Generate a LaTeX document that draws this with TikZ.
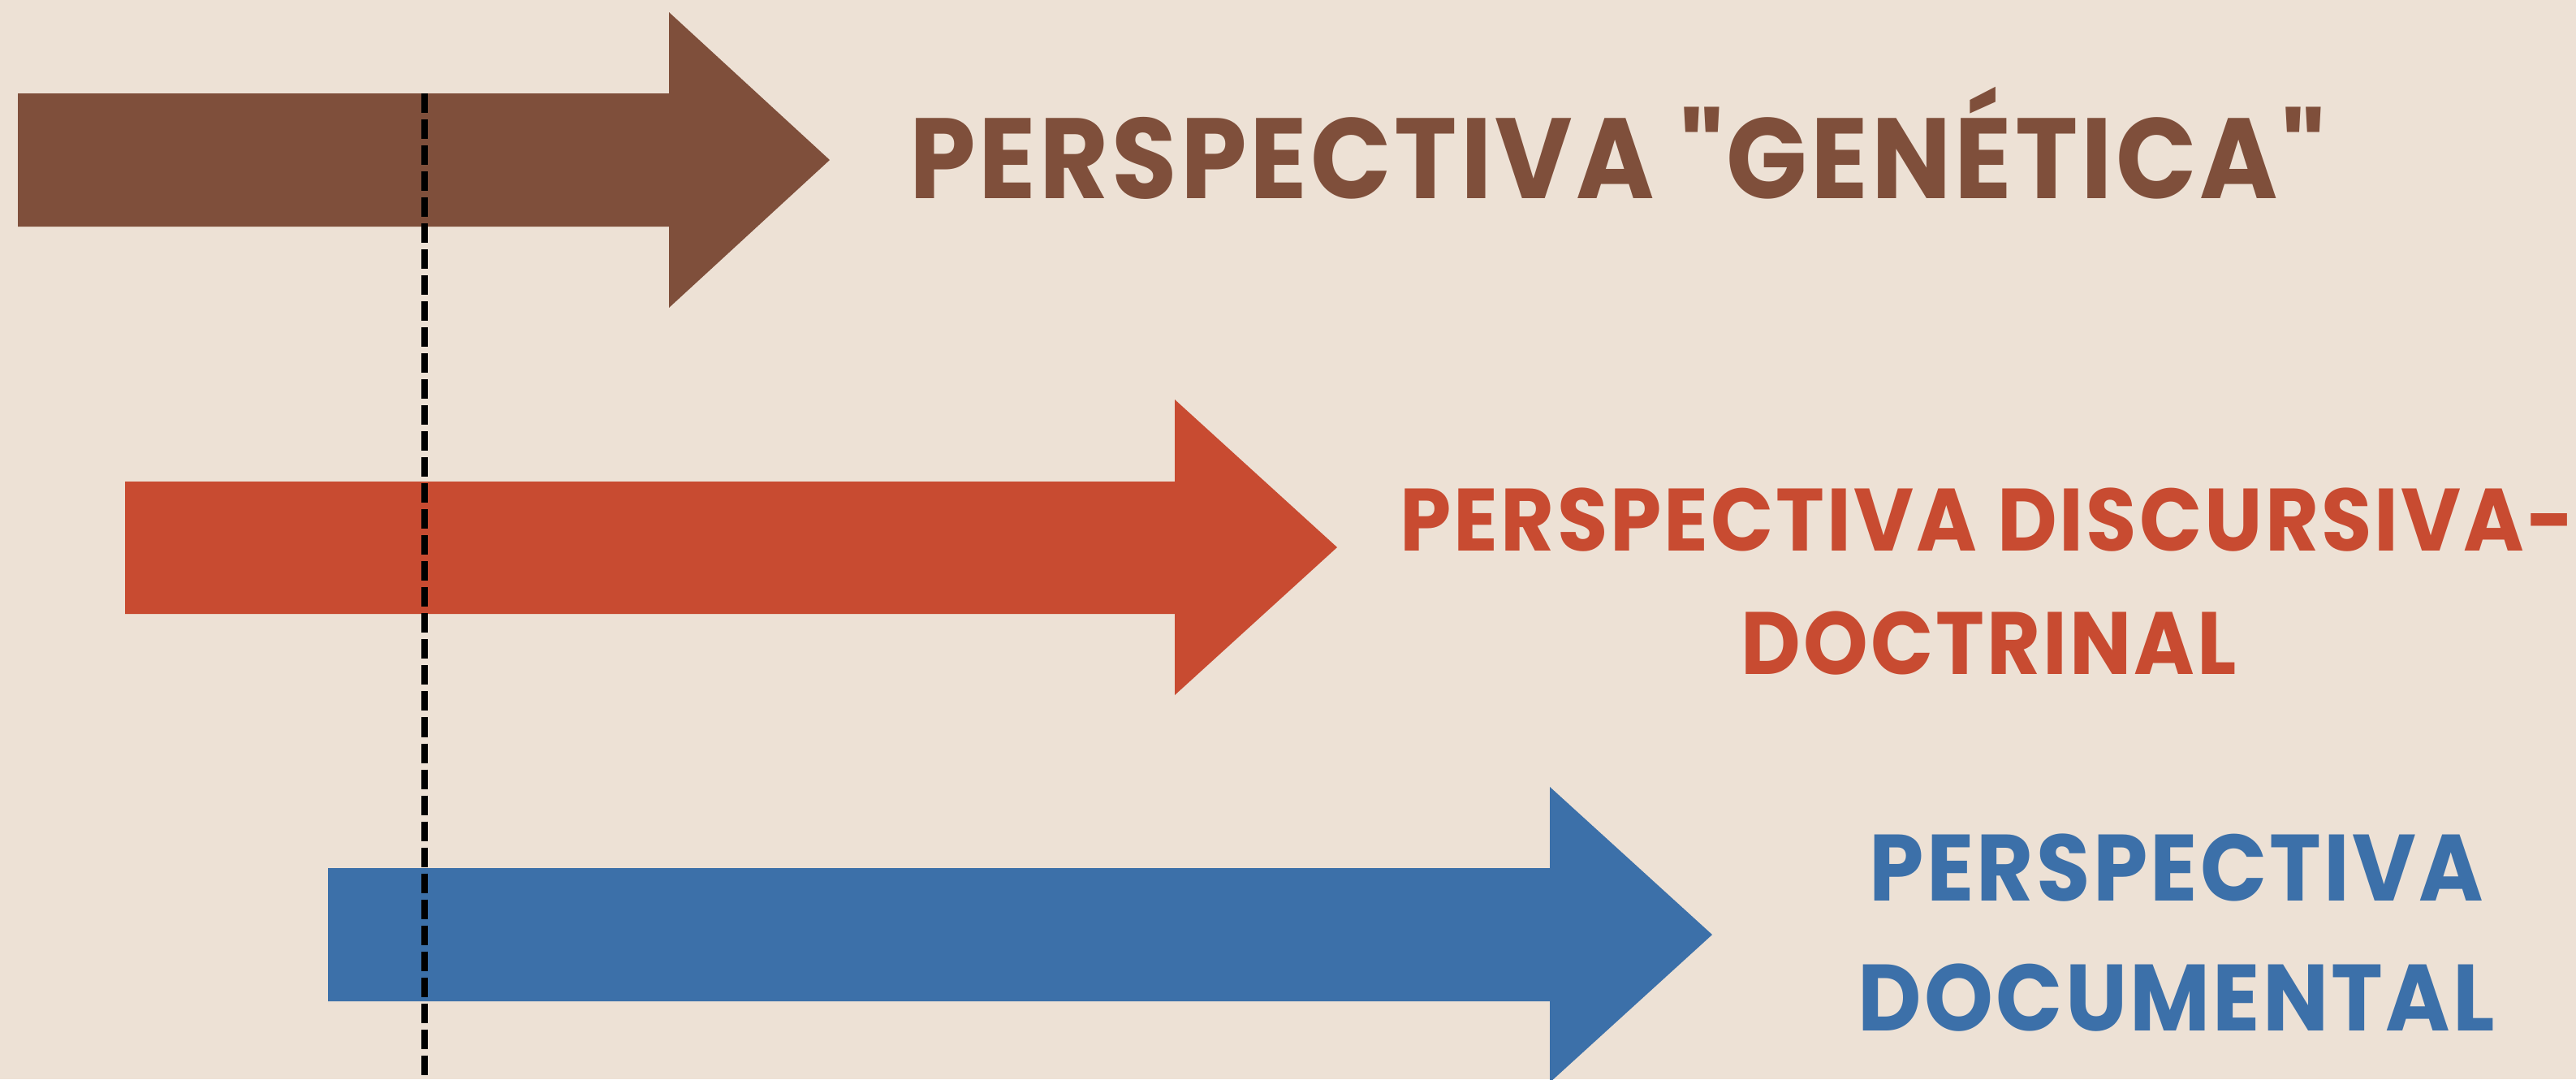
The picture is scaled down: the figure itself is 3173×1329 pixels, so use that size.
\documentclass[tikz,border=0pt]{standalone}
\usepackage{fontspec}
\newfontfamily\pfont{Poppins}[FakeStretch=0.93,LetterSpace=2.8]
\definecolor{bg}{HTML}{EDE1D5}
\definecolor{cbrown}{HTML}{7F4F3B}
\definecolor{cred}{HTML}{C84B31}
\definecolor{cblue}{HTML}{3C70A9}
\begin{document}
\begin{tikzpicture}[x=0.01cm,y=-0.01cm,
  lbl/.style={inner sep=0pt,anchor=base,font=\pfont\bfseries},
  dashline/.style={black,line width=2pt,dash pattern=on 0.24cm off 0.08cm}]
\fill[bg] (0,0) rectangle (3173,1329);
\useasboundingbox (0,0) rectangle (3173,1329);
% arrows
\fill[cbrown] (22,115) -- (824,115) -- (824,15) -- (1022,197) -- (824,379) -- (824,279) -- (22,279) -- cycle;
\fill[cred] (154,593) -- (1447,593) -- (1447,492) -- (1647,674) -- (1447,856) -- (1447,756) -- (154,756) -- cycle;
\fill[cblue] (404,1069) -- (1909,1069) -- (1909,969) -- (2109,1151) -- (1909,1333) -- (1909,1233) -- (404,1233) -- cycle;
% dashed line
\coordinate (dtop) at (523,115);
\coordinate (dbot) at (523,1329);
\draw[dashline] (dtop) -- (dbot);
% labels
\node[lbl,text=cbrown,font=\pfont\bfseries\fontsize{40}{48}\selectfont] (t1) at (1992,244) {PERSPECTIVA "GENÉTICA"};
\node[lbl,text=cred,font=\pfont\bfseries\fontsize{31}{40}\selectfont] (t2a) at (2448,678) {PERSPECTIVA DISCURSIVA-};
\node[lbl,text=cred,font=\pfont\bfseries\fontsize{31}{40}\selectfont] (t2b) at (2450,830) {DOCTRINAL};
\node[lbl,text=cblue,font=\pfont\bfseries\fontsize{33}{40}\selectfont] (t3a) at (2681,1109) {PERSPECTIVA};
\node[lbl,text=cblue,font=\pfont\bfseries\fontsize{33}{40}\selectfont] (t3b) at (2681,1269) {DOCUMENTAL};
\end{tikzpicture}
\end{document}
